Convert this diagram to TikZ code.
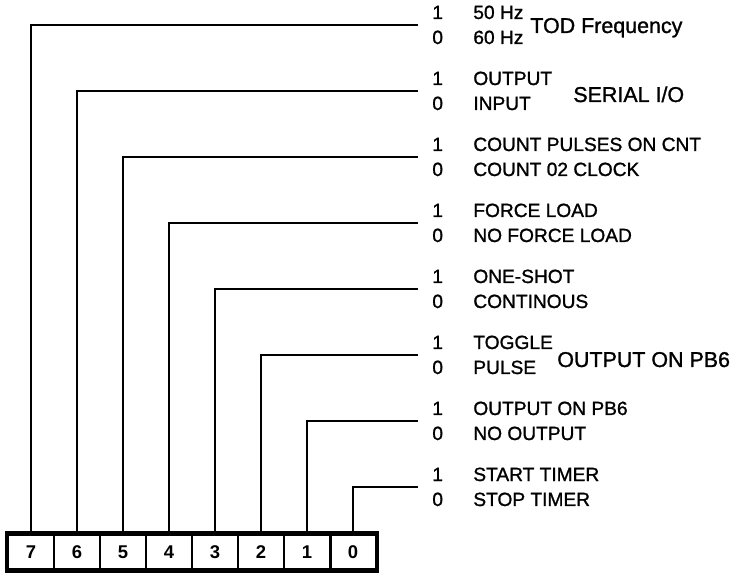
\documentclass[tikz,border=0pt]{standalone}
\usepackage{fontspec}
\setmainfont{Liberation Sans}
\newfontfamily\heavyfont[FakeBold=1.2]{Liberation Sans}

\tikzset{
    cell/.style={draw, line width=1.7pt, minimum width=0.92cm, minimum height=0.7cm,
        inner sep=0pt, font=\fontsize{10.5}{12}\selectfont\bfseries},
    wire/.style={line width=1.5pt},
    lbl/.style={anchor=base west, inner sep=0pt, font=\heavyfont\fontsize{10.9}{12}\selectfont},
    sidelbl/.style={lbl, font=\heavyfont\fontsize{12.2}{14}\selectfont}
}

\begin{document}
\begin{tikzpicture}[x=0.02cm, y=-0.02cm]
    \useasboundingbox (0,0) rectangle (748,574);
    % register bits
    \foreach \b in {7,6,5,4,3,2,1,0}
        \node[cell] (b\b) at ({31+46*(7-\b)},552) {\b};
    \draw[line width=2.2pt] (b7.north west) rectangle (b0.south east);
    % one line per bit with its two settings
    \foreach \b/\y/\hi/\lo in {7/25/50 Hz/60 Hz, 6/91/OUTPUT/INPUT,
            5/157/COUNT PULSES ON CNT/COUNT 02 CLOCK, 4/223/FORCE LOAD/NO FORCE LOAD,
            3/289/ONE-SHOT/CONTINOUS, 2/355/TOGGLE/PULSE,
            1/421/OUTPUT ON PB6/NO OUTPUT, 0/487/START TIMER/STOP TIMER} {
        \coordinate (e\b) at (418,\y);
        \draw[wire] (b\b.north) |- (e\b);
        \node[lbl] (one\b) at (432,\y-6) {1};
        \node[lbl] (zero\b) at (432,\y+19) {0};
        \node[lbl] (hi\b) at (473,\y-6) {\hi};
        \node[lbl] (lo\b) at (473,\y+19) {\lo};
    }
    \node[sidelbl] (tod) at (530,33) {TOD Frequency};
    \node[sidelbl] (serial) at (573,102) {SERIAL I/O};
    \node[sidelbl] (pb6) at (557,367) {OUTPUT ON PB6};
\end{tikzpicture}
\end{document}
